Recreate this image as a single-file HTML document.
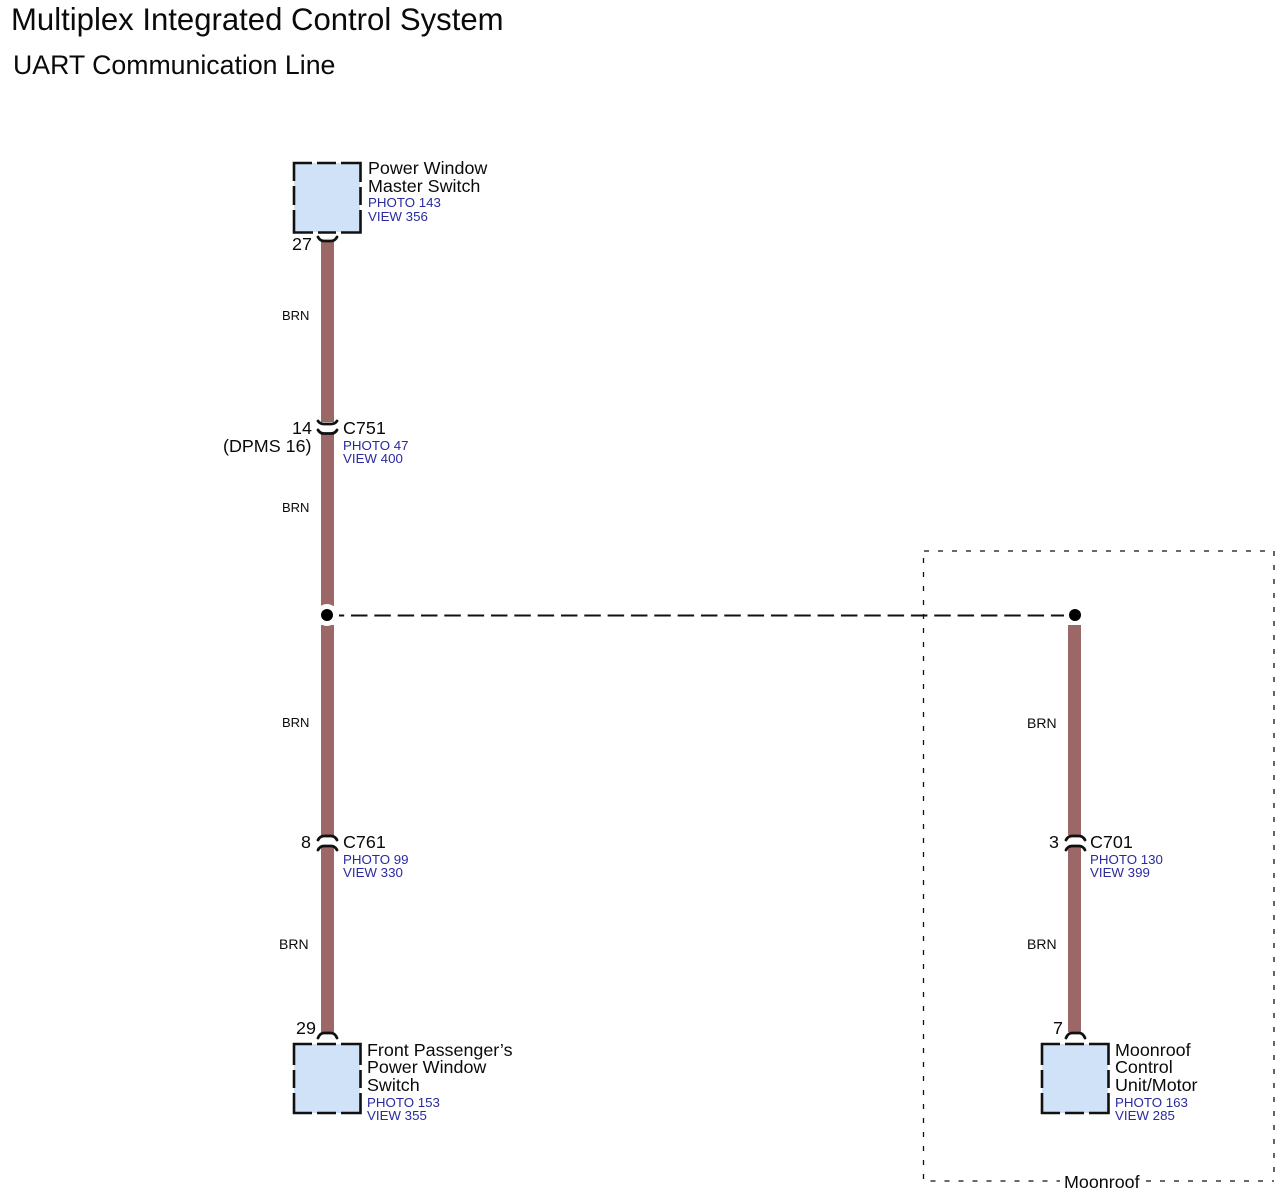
<!DOCTYPE html>
<html>
<head>
<meta charset="utf-8">
<style>
html,body{margin:0;padding:0;background:#fff;}
svg{display:block;}
text{font-family:"Liberation Sans",Arial,sans-serif;fill:#0a0a0a;}
.l{font-size:17.9px;}
.b{font-size:13px;}
.b2{font-size:14px;}
.p{font-size:13.3px;fill:#2a2a9e;}
.w{fill:#9c6767;}
.box{fill:#cfe2f7;stroke:none;}
.dash{fill:none;stroke:#111;stroke-width:2.600;}
.arc{fill:none;stroke:#111;stroke-width:2.800;stroke-linecap:round;}
.d{fill:none;stroke:#111;stroke-width:1.300;stroke-dasharray:5 9;}
</style>
</head>
<body>
<svg width="1286" height="1198" viewBox="0 0 1286 1198" xmlns="http://www.w3.org/2000/svg">
<rect width="1286" height="1198" fill="#fff"/>

<text x="11" y="30" style="font-size:31.100px">Multiplex Integrated Control System</text>
<text x="13" y="74" style="font-size:26.700px">UART Communication Line</text>

<!-- Moonroof dotted area -->
<path class="d" d="M924 551H1274V1181"/>
<path class="d" d="M923.500 558V1181H1060"/>
<path class="d" d="M1146 1181H1274"/>
<text x="1064" y="1188" class="l">Moonroof</text>

<!-- wires -->
<rect class="w" x="321" y="241" width="13" height="181"/>
<rect class="w" x="321" y="434" width="13" height="172"/>
<rect class="w" x="321" y="625" width="13" height="210"/>
<rect class="w" x="321" y="847" width="13" height="185"/>
<rect class="w" x="1068" y="625" width="13" height="210"/>
<rect class="w" x="1068" y="847" width="13" height="185"/>

<!-- dashed link -->
<path d="M339 615.500H1064" fill="none" stroke="#111" stroke-width="2" stroke-dasharray="16.500 6.830" stroke-dashoffset="11.330"/>
<circle cx="327" cy="615" r="11" fill="#fff"/>
<circle cx="327" cy="615" r="6" fill="#000"/>
<circle cx="1075" cy="615" r="6" fill="#000"/>

<!-- Power Window Master Switch -->
<rect class="box" x="294" y="163" width="66" height="69"/>
<path class="dash" d="M294 181V163H312M317 163H336M341 163H360.500V182M360.500 187V205M360.500 210V232.500H341M336 232.500H318M313 232.500H294V210M294 205V186"/>
<path class="arc" d="M318 237Q320 241 324 241H331Q335 241 337 237"/>
<text x="292" y="250" class="l">27</text>
<text x="368" y="174" class="l">Power Window</text>
<text x="368" y="192" class="l">Master Switch</text>
<text x="368" y="207" class="p">PHOTO 143</text>
<text x="368" y="221" class="p">VIEW 356</text>
<text x="282" y="320" class="b">BRN</text>

<!-- C751 -->
<rect x="316" y="422" width="23" height="12" fill="#fff"/>
<path class="arc" d="M318 421Q320 424 324 424H331Q335 424 337 421"/>
<path class="arc" d="M318 430Q320 433.500 324 433.500H331Q335 433.500 337 430"/>
<text x="292" y="434" class="l">14</text>
<text x="343" y="434" class="l">C751</text>
<text x="223" y="452" class="l">(DPMS 16)</text>
<text x="343" y="450" class="p">PHOTO 47</text>
<text x="343" y="463" class="p">VIEW 400</text>
<text x="282" y="512" class="b">BRN</text>

<!-- C761 -->
<text x="282" y="727" class="b">BRN</text>
<rect x="316" y="835" width="23" height="12" fill="#fff"/>
<path class="arc" d="M318 840Q320 836 324 836H331Q335 836 337 840"/>
<path class="arc" d="M318 850Q320 846 324 846H331Q335 846 337 850"/>
<text x="301" y="848" class="l">8</text>
<text x="343" y="848" class="l">C761</text>
<text x="343" y="864" class="p">PHOTO 99</text>
<text x="343" y="877" class="p">VIEW 330</text>
<text x="279" y="949" class="b2">BRN</text>

<!-- Front Passenger -->
<path class="arc" d="M318 1038Q320 1033 324 1033H331Q335 1033 337 1038"/>
<text x="296" y="1034" class="l">29</text>
<rect class="box" x="294" y="1044" width="66" height="69"/>
<path class="dash" d="M294 1065V1044H312M317 1044H336M341 1044H360.500V1065M360.500 1070V1088M360.500 1093V1113H341M336 1113H317M312 1113H294V1093M294 1088V1070"/>
<text x="367" y="1056" class="l">Front Passenger’s</text>
<text x="367" y="1073" class="l">Power Window</text>
<text x="367" y="1091" class="l">Switch</text>
<text x="367" y="1107" class="p">PHOTO 153</text>
<text x="367" y="1120" class="p">VIEW 355</text>

<!-- C701 -->
<text x="1027" y="728" class="b2">BRN</text>
<rect x="1063" y="835" width="23" height="12" fill="#fff"/>
<path class="arc" d="M1066 840Q1068 836 1072 836H1079Q1083 836 1085 840"/>
<path class="arc" d="M1066 850Q1068 846 1072 846H1079Q1083 846 1085 850"/>
<text x="1049" y="848" class="l">3</text>
<text x="1090" y="848" class="l">C701</text>
<text x="1090" y="864" class="p">PHOTO 130</text>
<text x="1090" y="877" class="p">VIEW 399</text>
<text x="1027" y="949" class="b2">BRN</text>

<!-- Moonroof Control -->
<path class="arc" d="M1066 1038Q1068 1033 1072 1033H1079Q1083 1033 1085 1038"/>
<text x="1053" y="1034" class="l">7</text>
<rect class="box" x="1042" y="1044" width="66" height="69"/>
<path class="dash" d="M1042 1065V1044H1060M1065 1044H1084M1089 1044H1108.500V1065M1108.500 1070V1088M1108.500 1093V1113H1089M1084 1113H1065M1060 1113H1042V1093M1042 1088V1070"/>
<text x="1115" y="1056" class="l">Moonroof</text>
<text x="1115" y="1073" class="l">Control</text>
<text x="1115" y="1091" class="l">Unit/Motor</text>
<text x="1115" y="1107" class="p">PHOTO 163</text>
<text x="1115" y="1120" class="p">VIEW 285</text>
</svg>
</body>
</html>
